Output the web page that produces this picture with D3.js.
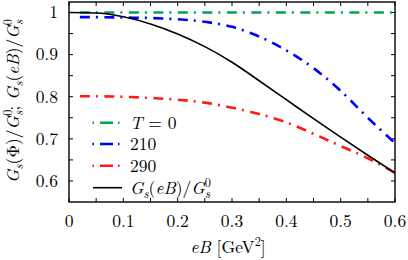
<!DOCTYPE html>
<html>
<head>
<meta charset="utf-8">
<script src="https://cdn.jsdelivr.net/npm/d3@7"></script>
<style>
  body { margin: 0; background: #fff; }
</style>
</head>
<body>
<svg id="chart" width="408" height="260"></svg>
<script>
// values
const eB_phi = [0.02, 0.05, 0.1, 0.15, 0.2, 0.25, 0.3, 0.35, 0.4, 0.45, 0.5, 0.55, 0.6];
const g_T0   = [1, 1, 1, 1, 1, 1, 1, 1, 1, 1, 1, 1, 1];
const g_210  = [0.989, 0.989, 0.988, 0.987, 0.984, 0.978, 0.966, 0.943, 0.910, 0.868, 0.814, 0.750, 0.690];
const g_290  = [0.801, 0.801, 0.800, 0.797, 0.793, 0.786, 0.774, 0.759, 0.739, 0.712, 0.683, 0.654, 0.619];
const eB_mag = [0, 0.05, 0.1, 0.15, 0.2, 0.25, 0.3, 0.35, 0.4, 0.45, 0.5, 0.55, 0.6];
const g_eB   = [1.0, 0.999, 0.990, 0.973, 0.949, 0.919, 0.882, 0.838, 0.793, 0.748, 0.704, 0.661, 0.619];

const xTicks = [0, 0.1, 0.2, 0.3, 0.4, 0.5, 0.6];
const yTicks = [0.6, 0.7, 0.8, 0.9, 1];

const series = [
  {name: 'T0',  x: eB_phi, y: g_T0,  color: '#00a550', dash: true},
  {name: '210', x: eB_phi, y: g_210, color: '#0000ff', dash: true},
  {name: '290', x: eB_phi, y: g_290, color: '#ff1a1a', dash: true},
  {name: 'Gs',  x: eB_mag, y: g_eB,  color: '#000000', dash: false}
];

const svg = d3.select('#chart')
  .attr('font-family', '"Latin Modern Roman", "Liberation Serif", serif');
const pLeft = 69, pRight = 395, pTop = 2, pBottom = 202;
const fs = 17.5;

const x = d3.scaleLinear().domain([0, 0.6]).range([pLeft, pRight]);
const y = d3.scaleLinear().domain([0.55, 1.025]).range([pBottom, pTop]);

// ticks (inward, all four sides)
const tickG = svg.append('g').attr('stroke', '#000').attr('stroke-width', 1);
d3.range(0, 0.6001, 0.05).forEach(function(v){
  const px = x(v);
  tickG.append('line').attr('x1', px).attr('x2', px).attr('y1', pBottom).attr('y2', pBottom - 4);
  tickG.append('line').attr('x1', px).attr('x2', px).attr('y1', pTop).attr('y2', pTop + 4);
});
d3.range(0.6, 1.0001, 0.05).forEach(function(v){
  const py = y(v);
  tickG.append('line').attr('x1', pLeft).attr('x2', pLeft + 4).attr('y1', py).attr('y2', py);
  tickG.append('line').attr('x1', pRight).attr('x2', pRight - 4).attr('y1', py).attr('y2', py);
});

// tick labels
svg.append('g').selectAll('text').data(xTicks).enter().append('text')
  .attr('x', function(d){ return x(d); })
  .attr('y', 226.5)
  .attr('text-anchor', 'middle')
  .attr('font-size', fs)
  .text(function(d){ return d === 0 ? '0' : d3.format('.1f')(d); });

svg.append('g').selectAll('text').data(yTicks).enter().append('text')
  .attr('x', 58)
  .attr('y', function(d){ return y(d) + 5.8; })
  .attr('text-anchor', 'end')
  .attr('font-size', fs)
  .text(function(d){ return d === 1 ? '1' : d3.format('.1f')(d); });

// curves
svg.append('clipPath').attr('id', 'clip')
  .append('rect').attr('x', pLeft).attr('y', pTop).attr('width', pRight - pLeft).attr('height', pBottom - pTop);

const line = d3.line()
  .x(function(d){ return x(d[0]); })
  .y(function(d){ return y(d[1]); })
  .curve(d3.curveMonotoneX);

const plot = svg.append('g').attr('clip-path', 'url(#clip)');
series.forEach(function(s){
  const pts = s.x.map(function(v, i){ return [v, s.y[i]]; });
  plot.append('path')
    .attr('d', line(pts))
    .attr('fill', 'none')
    .attr('stroke', s.color)
    .attr('stroke-width', s.dash ? 2.6 : 1.6)
    .attr('stroke-dasharray', s.dash ? '10,6,2,6.5' : null);
});

// frame
svg.append('rect')
  .attr('x', pLeft).attr('y', pTop)
  .attr('width', pRight - pLeft).attr('height', pBottom - pTop)
  .attr('fill', 'none').attr('stroke', '#000').attr('stroke-width', 1.4);

// legend
const legY = [122.7, 144, 165.7, 187.7];
const leg = svg.append('g');
series.forEach(function(s, i){
  leg.append('line')
    .attr('x1', s.dash ? 92.5 : 93).attr('x2', s.dash ? 120 : 122)
    .attr('y1', legY[i]).attr('y2', legY[i])
    .attr('stroke', s.color)
    .attr('stroke-width', s.dash ? 2.6 : 1.6)
    .attr('stroke-dasharray', s.dash ? '1.5,6,13,5,1.5,100' : null);
});
let t = leg.append('text').attr('x', 130).attr('y', legY[0] + 6).attr('font-size', fs);
t.append('tspan').attr('font-style', 'italic').text('T');
t.append('tspan').text(' = 0');
leg.append('text').attr('x', 130).attr('y', legY[1] + 6).attr('font-size', fs).text('210');
leg.append('text').attr('x', 130).attr('y', legY[2] + 6).attr('font-size', fs).text('290');

// G_s(arg)/G_s^0 ; leaves the baseline shifted by +4
function gsText(sel, arg){
  const sub = fs * 0.7;
  sel.append('tspan').attr('font-style', 'italic').text('G');
  sel.append('tspan').attr('font-style', 'italic').attr('font-size', sub).attr('dy', 4).text('s');
  sel.append('tspan').attr('dy', -4).text('(');
  arg(sel);
  sel.append('tspan').text(')/');
  sel.append('tspan').attr('font-style', 'italic').text('G');
  sel.append('tspan').attr('font-size', sub).attr('dy', -7).text('0');
  sel.append('tspan').attr('font-style', 'italic').attr('font-size', sub).attr('dx', -6).attr('dy', 11).text('s');
}
t = leg.append('text').attr('x', 130).attr('y', legY[3] + 6).attr('font-size', fs);
gsText(t, function(s){ s.append('tspan').attr('font-style', 'italic').text('eB'); });

// y label
t = svg.append('text')
  .attr('transform', 'translate(19,101) rotate(-90)')
  .attr('text-anchor', 'middle')
  .attr('font-size', fs);
gsText(t, function(s){ s.append('tspan').text('\u03a6'); });
t.append('tspan').attr('dy', -4).text('; ');
gsText(t, function(s){ s.append('tspan').attr('font-style', 'italic').text('eB'); });

// x label
t = svg.append('text').attr('x', 228).attr('y', 253).attr('text-anchor', 'middle').attr('font-size', fs);
t.append('tspan').attr('font-style', 'italic').text('eB');
t.append('tspan').text(' [GeV');
t.append('tspan').attr('font-size', fs * 0.7).attr('dy', -7).text('2');
t.append('tspan').attr('dy', 7).text(']');
</script>
</body>
</html>
